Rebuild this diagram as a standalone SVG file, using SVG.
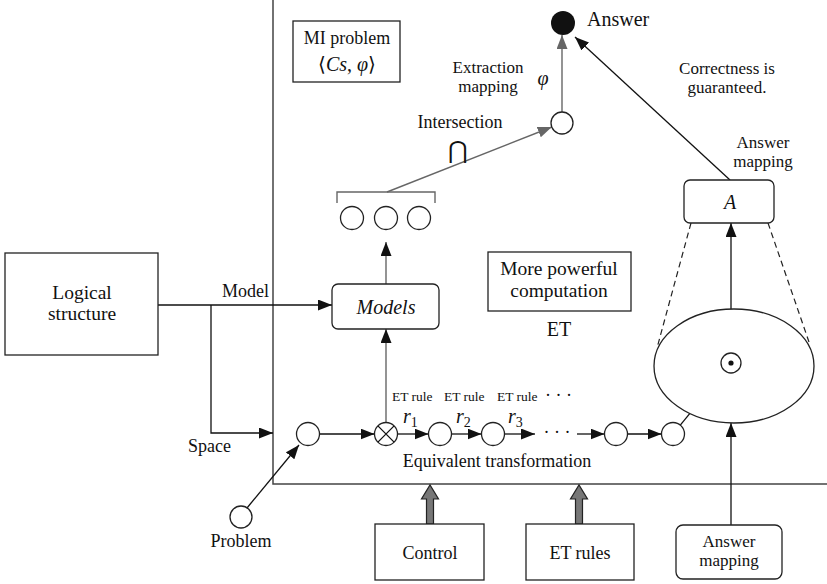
<svg xmlns="http://www.w3.org/2000/svg" width="827" height="584" viewBox="0 0 827 584" font-family="'Liberation Serif', 'DejaVu Serif', serif">
  <defs>
    <marker id="ah" markerUnits="userSpaceOnUse" markerWidth="14" markerHeight="11" refX="14" refY="5.5" orient="auto">
      <path d="M0,0 L14,5.5 L0,11 z" fill="#111"/>
    </marker>
    <marker id="ahg" markerUnits="userSpaceOnUse" markerWidth="14" markerHeight="11" refX="14" refY="5.5" orient="auto">
      <path d="M0,0 L14,5.5 L0,11 z" fill="#666"/>
    </marker>
  </defs>
  <style>
    text { font-family: 'Liberation Serif', 'DejaVu Serif', serif; fill: #111; }
    .t17 { font-size: 17px; }
    .t18 { font-size: 18px; }
    .t195 { font-size: 19.5px; }
    .t20 { font-size: 20px; }
    .sm { font-size: 13.5px; }
    .it { font-style: italic; }
    .mid { text-anchor: middle; }
    .box { fill: #fff; stroke: #222; stroke-width: 1.3; }
    .node { fill: #fff; stroke: #222; stroke-width: 1.3; }
    .ln { fill: none; stroke: #111; stroke-width: 1.3; }
    .gl { fill: none; stroke: #666; stroke-width: 1.4; }
    .frame { fill: none; stroke: #444; stroke-width: 1.5; }
    .dash { fill: none; stroke: #222; stroke-width: 1.2; stroke-dasharray: 6 4; }
    .big { fill: #777; stroke: #222; stroke-width: 1.2; }
  </style>

  <!-- frame of the computation space -->
  <g id="frame">
    <path class="frame" d="M273,0 V484 H827"/>
  </g>

  <!-- connectors -->
  <g id="connectors">
    <path class="ln" d="M158,305 H332" marker-end="url(#ah)"/>
    <path class="ln" d="M211,305 V433 H273" marker-end="url(#ah)"/>
    <path class="ln" d="M247,508 L299,445" marker-end="url(#ah)"/>
    <path class="ln" d="M320,434 H374.5" marker-end="url(#ah)"/>
    <path class="ln" d="M397.5,434 H428.5" marker-end="url(#ah)"/>
    <path class="ln" d="M451.5,434 H481.5" marker-end="url(#ah)"/>
    <path class="ln" d="M504.5,434 H535" marker-end="url(#ah)"/>
    <path class="ln" d="M577,434 H604.5" marker-end="url(#ah)"/>
    <path class="ln" d="M627.5,434 H661.5" marker-end="url(#ah)"/>
    <path class="gl" d="M386,422.5 V329" marker-end="url(#ah)"/>
    <path class="gl" d="M386,284 V242" marker-end="url(#ah)"/>
    <path class="gl" d="M337,203 V192 H435 V203"/>
    <path class="gl" d="M387,192 L551.8,127" marker-end="url(#ahg)"/>
    <path class="gl" d="M562,112 V35" marker-end="url(#ahg)"/>
    <path class="ln" d="M730,180 L575,37" marker-end="url(#ah)"/>
    <path class="ln" d="M680.3,425.1 L724.7,370.7" marker-end="url(#ah)"/>
    <path class="ln" d="M731,353 V223" marker-end="url(#ah)"/>
    <path class="ln" d="M731,525 V423" marker-end="url(#ah)"/>
    <path class="dash" d="M691,223 L657,348"/>
    <path class="dash" d="M768,223 L809,342"/>
    <polygon class="big" points="426.5,524 426.5,499 421.5,499 430,485 438.5,499 433.5,499 433.5,524"/>
    <polygon class="big" points="575.5,524 575.5,499 570.5,499 579,485 587.5,499 582.5,499 582.5,524"/>
  </g>

  <g id="logical-structure">
    <rect class="box" x="5" y="253" width="153" height="102"/>
    <text class="t195 mid" x="82" y="298.5">Logical</text>
    <text class="t195 mid" x="82" y="320.2">structure</text>
  </g>
  <text class="t18" x="222" y="297">Model</text>
  <text class="t18" x="188" y="452">Space</text>

  <g id="problem">
    <circle class="node" cx="241" cy="517" r="11"/>
    <text class="t18 mid" x="241" y="547">Problem</text>
  </g>

  <g id="mi-problem">
    <rect class="box" x="293" y="21" width="107" height="61"/>
    <text class="t18 mid" x="347" y="44">MI problem</text>
    <text class="t20 mid" x="347" y="71">⟨<tspan class="it">Cs</tspan>, <tspan class="it">φ</tspan>⟩</text>
  </g>

  <g id="models">
    <rect class="box" x="332" y="284" width="107" height="45" rx="6"/>
    <text class="t20 it mid" x="386" y="314">Models</text>
  </g>

  <g id="model-set">
    <circle class="node" cx="352" cy="218" r="11.5"/>
    <circle class="node" cx="386" cy="218" r="11.5"/>
    <circle class="node" cx="419" cy="218" r="11.5"/>
  </g>
  <text class="t18 mid" x="460" y="128">Intersection</text>
  <text class="mid" x="458" y="158" style="font-family:'DejaVu Serif',serif;font-size:24px">⋂</text>

  <g id="extracted">
    <circle class="node" cx="562" cy="123" r="11"/>
  </g>
  <text class="t17 mid" x="488" y="73">Extraction</text>
  <text class="t17 mid" x="488" y="92">mapping</text>
  <text class="t20 it mid" x="543" y="85">φ</text>

  <g id="answer">
    <circle cx="563" cy="23" r="12" fill="#111"/>
    <text class="t20" x="587" y="26">Answer</text>
  </g>
  <text class="t17 mid" x="727" y="74">Correctness is</text>
  <text class="t17 mid" x="727" y="93">guaranteed.</text>

  <g id="answer-map">
    <rect class="box" x="684" y="180" width="90" height="43" rx="6"/>
    <text class="t20 it mid" x="730" y="209">A</text>
  </g>
  <text class="t17 mid" x="763" y="148">Answer</text>
  <text class="t17 mid" x="763" y="167">mapping</text>

  <g id="powerful">
    <rect class="box" x="488" y="252" width="143" height="59"/>
    <text class="t195 mid" x="559" y="275">More powerful</text>
    <text class="t195 mid" x="559" y="296.7">computation</text>
  </g>
  <text class="t20 mid" x="559" y="336">ET</text>

  <g id="answer-space">
    <ellipse class="node" cx="734" cy="366" rx="80" ry="57" fill="none"/>
    <circle class="node" cx="731" cy="363" r="10"/>
    <circle cx="731" cy="363" r="2.6" fill="#111"/>
  </g>

  <g id="chain">
    <circle class="node" cx="308" cy="434" r="11.5"/>
    <g id="et-start">
      <circle class="node" cx="386" cy="434" r="11.5"/>
      <path class="ln" d="M377.9,425.9 L394.1,442.1 M394.1,425.9 L377.9,442.1"/>
    </g>
    <circle class="node" cx="440" cy="434" r="11.5"/>
    <circle class="node" cx="493" cy="434" r="11.5"/>
    <text class="t18 mid" x="557" y="438">· · ·</text>
    <circle class="node" cx="616" cy="434" r="11.5"/>
    <circle class="node" cx="673" cy="434" r="11.5"/>
  </g>
  <text class="sm" x="392" y="401">ET rule</text>
  <text class="sm" x="444" y="401">ET rule</text>
  <text class="sm" x="497" y="401">ET rule</text>
  <text class="t18" x="545" y="401">· · ·</text>
  <text class="t20 it" x="403" y="423">r<tspan font-size="14" font-style="normal" dy="4">1</tspan></text>
  <text class="t20 it" x="456" y="423">r<tspan font-size="14" font-style="normal" dy="4">2</tspan></text>
  <text class="t20 it" x="508" y="423">r<tspan font-size="14" font-style="normal" dy="4">3</tspan></text>
  <text class="t18 mid" x="497" y="467">Equivalent transformation</text>

  <g id="control">
    <rect class="box" x="375" y="524" width="109" height="56"/>
    <text class="t18 mid" x="430" y="559">Control</text>
  </g>
  <g id="et-rules">
    <rect class="box" x="526" y="524" width="108" height="56"/>
    <text class="t18 mid" x="580" y="559">ET rules</text>
  </g>
  <g id="answer-mapping">
    <rect class="box" x="676" y="525" width="106" height="54" rx="7"/>
    <text class="t17 mid" x="729" y="547">Answer</text>
    <text class="t17 mid" x="729" y="566">mapping</text>
  </g>
</svg>
